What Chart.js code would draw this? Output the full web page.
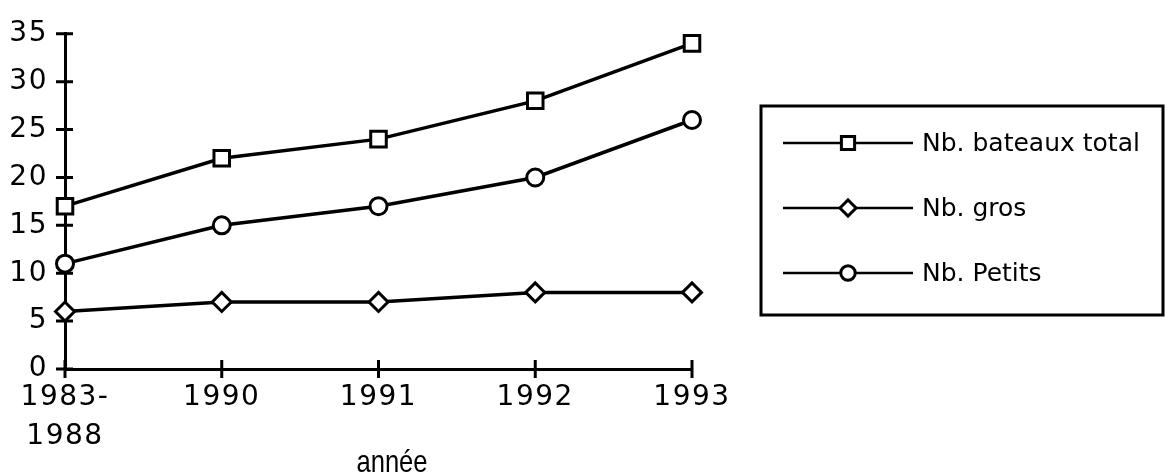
<!DOCTYPE html>
<html><head><meta charset="utf-8">
<script src="https://cdn.jsdelivr.net/npm/chart.js@4/dist/chart.umd.min.js"></script>
<style>html,body{margin:0;padding:0;background:#fff;} canvas{display:block;}</style>
</head><body>
<canvas id="c" width="1165" height="475"></canvas>
<script>
// ---- data ----
const categories = [['1983-', '1988'], '1990', '1991', '1992', '1993'];
const totalBoats = [17, 22, 24, 28, 34];
const bigBoats = [6, 7, 7, 8, 8];
const smallBoats = [11, 15, 17, 20, 26];
const seriesNames = ['Nb. bateaux total', 'Nb. gros', 'Nb. Petits'];
const yMin = 0, yMax = 35, yStep = 5;
const axisTitle = 'année';

const TICK_FONT = 'DejaVu Sans';
const markerStyles = ['rect', 'rectRot', 'circle'];
const markerRadii = [11, 9.5, 8.5];

function makeSet(label, data, i) {
  return {
    label, data,
    borderColor: '#000', borderWidth: 3.5, tension: 0,
    pointStyle: markerStyles[i], pointRadius: markerRadii[i],
    pointBorderWidth: 3, pointBorderColor: '#000', pointBackgroundColor: '#fff',
    fill: false
  };
}

const crossTicks = {
  id: 'crossTicks',
  beforeDraw(chart) { chart.ctx.letterSpacing = '1.5px'; },
  beforeDatasetsDraw(chart) {
    const ctx = chart.ctx, xs = chart.scales.x, ys = chart.scales.y;
    ctx.save();
    ctx.letterSpacing = '0px';
    ctx.strokeStyle = '#000'; ctx.lineWidth = 3;
    ctx.beginPath();
    const ax = chart.chartArea.left, ay = chart.chartArea.bottom;
    ys.ticks.forEach((t, i) => { const p = ys.getPixelForTick(i); ctx.moveTo(ax - 9, p); ctx.lineTo(ax + 8, p); });
    xs.ticks.forEach((t, i) => { const p = xs.getPixelForTick(i); ctx.moveTo(p, ay - 9); ctx.lineTo(p, ay + 9); });
    ctx.stroke();
    // axis title, condensed
    ctx.fillStyle = '#000';
    ctx.font = '32px "Liberation Sans", sans-serif';
    ctx.textAlign = 'center'; ctx.textBaseline = 'alphabetic';
    ctx.translate(392, 472);
    ctx.scale(0.8, 1);
    ctx.fillText(axisTitle, 0, 0);
    ctx.restore();
  }
};

function drawMarker(ctx, style, x, y, r) {
  ctx.beginPath();
  if (style === 'rect') { const s = Math.SQRT1_2 * r; ctx.rect(x - s, y - s, 2 * s, 2 * s); }
  else if (style === 'rectRot') { ctx.moveTo(x - r, y); ctx.lineTo(x, y - r); ctx.lineTo(x + r, y); ctx.lineTo(x, y + r); ctx.closePath(); }
  else { ctx.arc(x, y, r, 0, Math.PI * 2); }
  ctx.fillStyle = '#fff'; ctx.fill();
  ctx.lineWidth = 3; ctx.strokeStyle = '#000'; ctx.stroke();
}

const boxLegend = {
  id: 'boxLegend',
  afterDraw(chart) {
    const ctx = chart.ctx;
    ctx.save();
    ctx.letterSpacing = '0px';
    ctx.strokeStyle = '#000'; ctx.lineWidth = 3;
    ctx.strokeRect(761, 106, 402, 209);
    const rows = [143, 208, 273];
    chart.data.datasets.forEach((ds, i) => {
      const y = rows[i];
      ctx.beginPath(); ctx.moveTo(783, y); ctx.lineTo(913, y);
      ctx.lineWidth = 2.5; ctx.strokeStyle = '#000'; ctx.stroke();
      drawMarker(ctx, ds.pointStyle, 848, y, ds.pointRadius * 0.85);
      ctx.fillStyle = '#000';
      ctx.font = '25px "DejaVu Sans"';
      ctx.textBaseline = 'middle'; ctx.textAlign = 'left';
      ctx.fillText(ds.label, 922, y + 1);
    });
    ctx.restore();
  }
};

new Chart(document.getElementById('c'), {
  type: 'line',
  data: {
    labels: categories,
    datasets: [
      makeSet(seriesNames[0], totalBoats, 0),
      makeSet(seriesNames[1], bigBoats, 1),
      makeSet(seriesNames[2], smallBoats, 2)
    ]
  },
  options: {
    responsive: false, animation: false,
    layout: { padding: { left: 0, right: 473, top: 29, bottom: 0 } },
    plugins: { legend: { display: false }, tooltip: { enabled: false } },
    scales: {
      x: {
        type: 'category', offset: false,
        grid: { display: false, drawTicks: false, tickLength: 0 },
        border: { display: true, color: '#000', width: 3 },
        ticks: { color: '#000', padding: 9, maxRotation: 0, autoSkip: false,
                 font: { family: TICK_FONT, size: 28, lineHeight: 1.4 } },
        title: { display: false },
        afterFit(s) { s.height = 106; }
      },
      y: {
        min: yMin, max: yMax,
        grid: { display: false, drawTicks: false, tickLength: 0 },
        border: { display: true, color: '#000', width: 3 },
        ticks: { stepSize: yStep, color: '#000', padding: 17,
                 font: { family: TICK_FONT, size: 28 } },
        afterFit(s) { s.width = 65; }
      }
    }
  },
  plugins: [crossTicks, boxLegend]
});
</script>
</body></html>
